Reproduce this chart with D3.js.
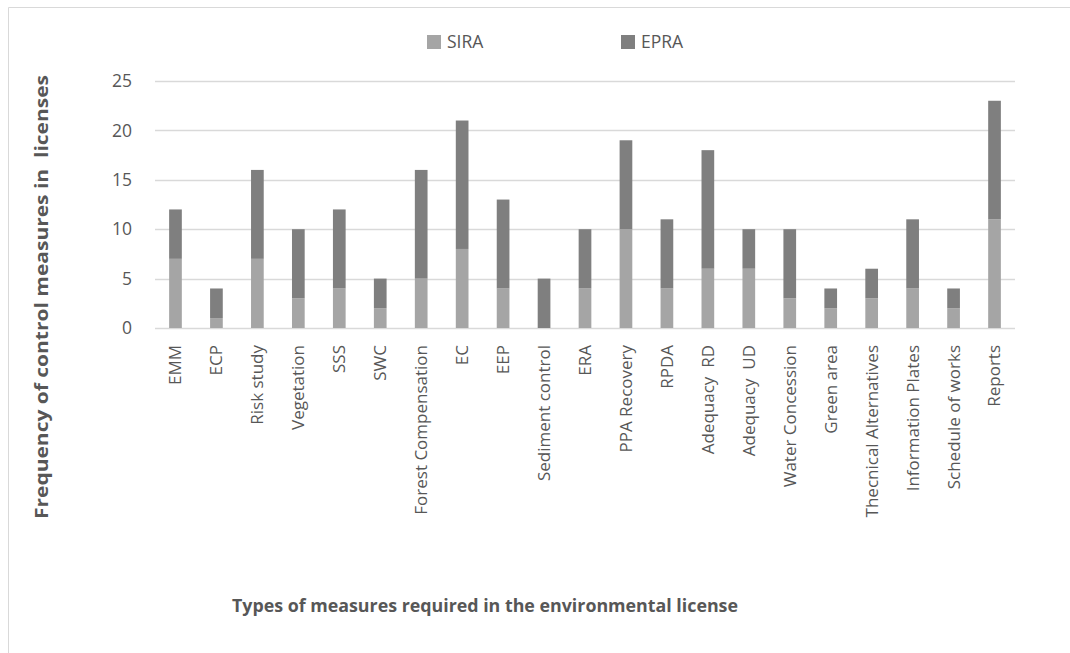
<!DOCTYPE html>
<html>
<head>
<meta charset="utf-8">
<script src="https://cdn.jsdelivr.net/npm/d3@7"></script>
<style>
  html, body { margin: 0; padding: 0; background: #fff; }
  svg { display: block; }
  text { font-family: "Open Sans", "Noto Sans", sans-serif; fill: #575757; white-space: pre; }
</style>
</head>
<body>
<svg id="chart" width="1070" height="653"></svg>
<script>
// Measure types required in the environmental licenses
const categories = [
  "EMM", "ECP", "Risk study", "Vegetation", "SSS", "SWC", "Forest Compensation",
  "EC", "EEP", "Sediment control", "ERA", "PPA Recovery", "RPDA", "Adequacy  RD",
  "Adequacy  UD", "Water Concession", "Green area", "Thecnical Alternatives",
  "Information Plates", "Schedule of works", "Reports"
];
// Counts per licensing type
const sira = [7, 1, 7, 3, 4, 2, 5, 8, 4, 0, 4, 10, 4, 6, 6, 3, 2, 3, 4, 2, 11];
const epra = [5, 3, 9, 7, 8, 3, 11, 13, 9, 5, 6, 9, 7, 12, 4, 7, 2, 3, 7, 2, 12];
const seriesNames = ["SIRA", "EPRA"];
const seriesColors = ["#a5a5a5", "#7f7f7f"];
const yTicks = [0, 5, 10, 15, 20, 25];

const svg = d3.select("#chart");

// outer frame of the chart area
svg.append("path")
  .attr("d", "M8.5,653 V7.5 H1070")
  .attr("fill", "none")
  .attr("stroke", "#d9d9d9")
  .attr("stroke-width", 1);

const plot = { left: 155, right: 1015, top: 81, bottom: 328 };

const x = d3.scaleBand()
  .domain(categories)
  .range([plot.left, plot.right])
  .paddingInner(0.69)
  .paddingOuter(0.345);

const y = d3.scaleLinear()
  .domain([0, 25])
  .range([plot.bottom, plot.top]);

// horizontal gridlines
svg.append("g")
  .selectAll("line")
  .data(yTicks)
  .join("line")
  .attr("x1", plot.left)
  .attr("x2", plot.right)
  .attr("y1", d => Math.round(y(d)) + 0.5)
  .attr("y2", d => Math.round(y(d)) + 0.5)
  .attr("stroke", "#d9d9d9")
  .attr("stroke-width", 1.3);

// stacked bars
const rows = categories.map((c, i) => ({ cat: c, SIRA: sira[i], EPRA: epra[i] }));
const stacked = d3.stack().keys(seriesNames)(rows);

svg.append("g")
  .selectAll("g")
  .data(stacked)
  .join("g")
  .attr("fill", (d, i) => seriesColors[i])
  .selectAll("rect")
  .data(d => d)
  .join("rect")
  .attr("x", d => x(d.data.cat))
  .attr("width", x.bandwidth())
  .attr("y", d => y(d[1]))
  .attr("height", d => y(d[0]) - y(d[1]));

// y axis labels
const yAxis = svg.append("g")
  .attr("transform", `translate(${plot.left - 14},0)`)
  .call(d3.axisLeft(y).tickValues(yTicks).tickSize(0).tickPadding(9));
yAxis.select(".domain").remove();
yAxis.selectAll("text")
  .style("font-size", "17.5px")
  .style("font-family", "'Open Sans', sans-serif")
  .attr("fill", "#575757");

// x axis labels, rotated
const xAxis = svg.append("g")
  .attr("transform", `translate(0,${plot.bottom})`)
  .call(d3.axisBottom(x).tickSize(0));
xAxis.select(".domain").remove();
xAxis.selectAll("text")
  .style("font-size", "17px")
  .style("font-family", "'Open Sans', sans-serif")
  .attr("fill", "#575757")
  .attr("text-anchor", "end")
  .attr("transform", "rotate(-90)")
  .attr("x", -17)
  .attr("y", 0)
  .attr("dy", "0.35em");

// axis titles
svg.append("text")
  .attr("x", 485)
  .attr("y", 612)
  .attr("text-anchor", "middle")
  .attr("textLength", 506)
  .attr("lengthAdjust", "spacingAndGlyphs")
  .style("font-size", "18px")
  .style("font-weight", "bold")
  .text("Types of measures required in the environmental license");

svg.append("text")
  .attr("transform", "translate(48,297) rotate(-90)")
  .attr("text-anchor", "middle")
  .attr("textLength", 444)
  .attr("lengthAdjust", "spacingAndGlyphs")
  .style("font-size", "18px")
  .style("font-weight", "bold")
  .text("Frequency of control measures in  licenses");

// legend
const legend = svg.append("g");
const legendX = [427, 621];
seriesNames.forEach((name, i) => {
  legend.append("rect")
    .attr("x", legendX[i])
    .attr("y", 35)
    .attr("width", 14)
    .attr("height", 14)
    .attr("fill", seriesColors[i]);
  legend.append("text")
    .attr("x", legendX[i] + 20)
    .attr("y", 42)
    .attr("dy", "0.35em")
    .style("font-size", "17.5px")
    .text(name);
});
</script>
</body>
</html>
